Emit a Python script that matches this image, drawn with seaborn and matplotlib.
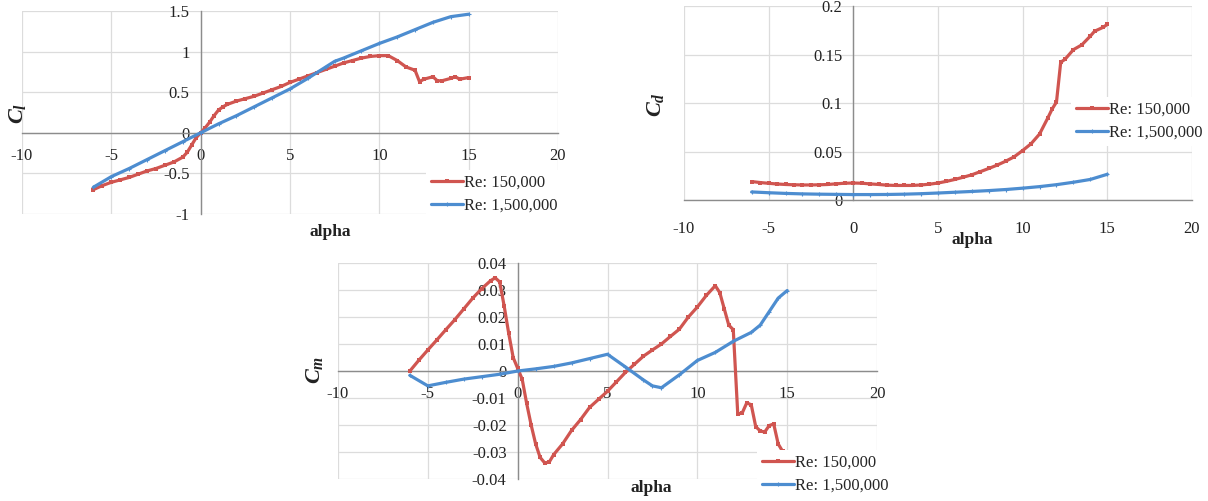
import numpy as np
import pandas as pd
import seaborn as sns
import matplotlib.pyplot as plt

# lift coefficient
alpha_cl_150k = [-6, -5.5, -5, -4.5, -4, -3.5, -3, -2.5, -2, -1.5, -1, -0.75, -0.5, -0.25, 0, 0.25, 0.5,
                 0.75, 1, 1.25, 1.5, 2, 2.5, 3, 3.5, 4, 4.5, 5, 5.5, 6, 6.5, 7, 7.5, 8, 8.5, 9, 9.5, 10,
                 10.5, 11, 11.5, 12, 12.25, 12.5, 13, 13.25, 13.5, 14, 14.25, 14.5, 15]
cl_150k = [-0.70, -0.65, -0.61, -0.58, -0.55, -0.51, -0.47, -0.44, -0.40, -0.36, -0.30, -0.24, -0.15,
           -0.06, 0.0, 0.06, 0.13, 0.21, 0.28, 0.32, 0.35, 0.39, 0.42, 0.45, 0.49, 0.53, 0.57, 0.62,
           0.66, 0.70, 0.74, 0.78, 0.82, 0.86, 0.89, 0.92, 0.94, 0.95, 0.95, 0.89, 0.81, 0.77, 0.63,
           0.66, 0.69, 0.64, 0.64, 0.67, 0.69, 0.66, 0.68]
alpha_cl_1500k = [-6, -5, -4, -3, -2, -1, 0, 1, 2, 3, 4, 5, 6, 7, 7.5, 8, 9, 10, 11, 12, 13, 14, 15]
cl_1500k = [-0.67, -0.54, -0.44, -0.33, -0.22, -0.11, 0.0, 0.11, 0.21, 0.32, 0.43, 0.54, 0.67, 0.81,
            0.88, 0.92, 1.01, 1.10, 1.18, 1.27, 1.36, 1.43, 1.46]

# drag coefficient
alpha_cd_150k = [-6, -5.5, -5, -4.5, -4, -3.5, -3, -2.5, -2, -1.5, -1, -0.5, 0, 0.5, 1, 1.5, 2, 2.5,
                 3, 3.5, 4, 4.5, 5, 5.5, 6, 6.5, 7, 7.5, 8, 8.5, 9, 9.5, 10, 10.5, 11, 11.5, 11.75,
                 12, 12.25, 12.5, 13, 13.5, 14, 14.25, 14.75, 15]
cd_150k = [0.019, 0.018, 0.0172, 0.0165, 0.016, 0.0157, 0.0155, 0.0155, 0.0157, 0.016, 0.0167,
           0.0173, 0.0175, 0.0173, 0.0166, 0.016, 0.0153, 0.015, 0.015, 0.015, 0.0155, 0.0163,
           0.0175, 0.0192, 0.0212, 0.0235, 0.026, 0.0292, 0.0325, 0.036, 0.040, 0.0445, 0.051,
           0.058, 0.068, 0.085, 0.094, 0.101, 0.142, 0.145, 0.155, 0.160, 0.169, 0.174, 0.178, 0.181]
alpha_cd_1500k = [-6, -5, -4, -3, -2, -1, 0, 1, 2, 3, 4, 5, 6, 7, 8, 9, 10, 11, 12, 13, 14, 15]
cd_1500k = [0.0083, 0.0075, 0.0068, 0.0063, 0.006, 0.0058, 0.0056, 0.0056, 0.0057, 0.006, 0.0065,
            0.0072, 0.008, 0.0088, 0.0097, 0.0108, 0.0122, 0.0138, 0.0158, 0.0183, 0.0212, 0.0265]

# moment coefficient
alpha_cm_150k = [-6, -5.5, -5, -4.5, -4, -3.5, -3, -2.5, -2, -1.5, -1.25, -1, -0.75, -0.5, -0.25, 0,
                 0.25, 0.5, 0.75, 1, 1.25, 1.5, 1.75, 2, 2.5, 3, 3.5, 4, 4.5, 5, 5.5, 6, 6.5, 7, 7.5,
                 8, 8.5, 9, 9.5, 10, 10.5, 11, 11.25, 11.5, 11.75, 12, 12.25, 12.5, 12.75, 13, 13.25,
                 13.5, 13.75, 14, 14.25, 14.5, 14.75]
cm_150k = [0.0, 0.004, 0.0078, 0.0115, 0.0153, 0.019, 0.023, 0.027, 0.0305, 0.0335, 0.0345, 0.033,
           0.024, 0.014, 0.005, 0.001, -0.003, -0.012, -0.020, -0.027, -0.032, -0.034, -0.0338,
           -0.031, -0.027, -0.022, -0.018, -0.0135, -0.0105, -0.0075, -0.004, -0.0005, 0.0025,
           0.0055, 0.0078, 0.010, 0.0128, 0.0155, 0.020, 0.0237, 0.028, 0.0316, 0.029, 0.023, 0.017,
           0.0153, -0.016, -0.0155, -0.0118, -0.0125, -0.0206, -0.0222, -0.0226, -0.0202, -0.0196,
           -0.027, -0.0298]
alpha_cm_1500k = [-6, -5, -4, -3, -2, -1, 0, 1, 2, 3, 4, 5, 6, 7, 7.5, 8, 9, 10, 11, 12, 13, 13.5,
                  14, 14.5, 15]
cm_1500k = [-0.0016, -0.0055, -0.0042, -0.003, -0.0021, -0.0012, 0.0, 0.0008, 0.0017, 0.003, 0.0046,
            0.0062, 0.0015, -0.0033, -0.0055, -0.0062, -0.0014, 0.0039, 0.0069, 0.011, 0.0143,
            0.017, 0.022, 0.027, 0.0298]

x_ticks = [-10, -5, 0, 5, 10, 15, 20]
cl_ticks = [-1, -0.5, 0, 0.5, 1, 1.5]
cd_ticks = [0, 0.05, 0.1, 0.15, 0.2]
cm_ticks = [-0.04, -0.03, -0.02, -0.01, 0, 0.01, 0.02, 0.03, 0.04]

sns.set_theme(style="whitegrid")
plt.rcParams['font.family'] = ['Liberation Serif', 'DejaVu Serif']
plt.rcParams['axes.unicode_minus'] = False
plt.rcParams['mathtext.fontset'] = 'custom'
plt.rcParams['mathtext.it'] = 'Liberation Serif:italic:bold'
plt.rcParams['mathtext.rm'] = 'Liberation Serif:bold'

red = '#D05550'
blue = '#4D8DD0'

fig = plt.figure(figsize=(12.08, 5.01), dpi=100)


def draw_panel(rect, a1, y1, a2, y2, yticks, ylabel, xpad, xlab_xy, ylab_xy, leg_xy):
    ax = fig.add_axes(rect)
    sns.lineplot(x=a1, y=y1, ax=ax, color=red, marker='s', markersize=3.4, markeredgewidth=0,
                 linewidth=2.3, label='Re: 150,000', zorder=3)
    sns.lineplot(x=a2, y=y2, ax=ax, color=blue, marker='+', markersize=3, markeredgewidth=0.8,
                 markeredgecolor=blue, linewidth=2.3, label='Re: 1,500,000', zorder=3)
    ax.set_xlim(-10, 20)
    ax.set_ylim(yticks[0], yticks[-1])
    ax.set_xticks(x_ticks)
    ax.set_yticks(yticks)
    ax.set_xticklabels([f'{v:g}' for v in x_ticks])
    ax.set_yticklabels([f'{v:g}' for v in yticks])
    ax.set_facecolor('white')
    ax.grid(True, color='#dcdcdc', linewidth=0.9)
    ax.spines['top'].set_visible(False)
    ax.spines['right'].set_visible(False)
    for s in ['left', 'bottom']:
        ax.spines[s].set_position(('data', 0))
        ax.spines[s].set_color('#8c8c8c')
        ax.spines[s].set_linewidth(1.0)
    ax.tick_params(length=0, labelsize=12, labelcolor='#222222')
    ax.tick_params(axis='x', pad=xpad)
    ax.tick_params(axis='y', pad=8)
    ax.set_xlabel('alpha', fontsize=12.5, fontweight='bold', color='#222222', va='center')
    ax.xaxis.set_label_coords(*xlab_xy)
    ax.set_ylabel(ylabel, fontsize=16, color='#222222', va='center')
    ax.yaxis.set_label_coords(*ylab_xy)
    ax.legend(loc='upper left', bbox_to_anchor=leg_xy, bbox_transform=fig.transFigure,
              fontsize=12, frameon=True, framealpha=1, edgecolor='none', facecolor='white',
              fancybox=False, borderpad=0.3, handlelength=1.9, handletextpad=0.1,
              labelspacing=0.4, borderaxespad=0)
    return ax


draw_panel([0.0182, 0.5729, 0.4437, 0.4052], alpha_cl_150k, cl_150k, alpha_cl_1500k, cl_1500k,
           cl_ticks, r'$C_l$', 11, (0.575, -0.089), (-0.0075, 0.497), (0.3526, 0.6607))
draw_panel([0.5662, 0.6008, 0.4205, 0.3872], alpha_cd_150k, cd_150k, alpha_cd_1500k, cd_1500k,
           cd_ticks, r'$C_d$', 15, (0.567, -0.206), (-0.057, 0.49), (0.8866, 0.8064))
draw_panel([0.2798, 0.0439, 0.4462, 0.4311], alpha_cm_150k, cm_150k, alpha_cm_1500k, cm_1500k,
           cm_ticks, r'$C_m$', 11, (0.582, -0.04), (-0.043, 0.505), (0.6267, 0.1018))

fig.savefig('out.png', dpi=100)
